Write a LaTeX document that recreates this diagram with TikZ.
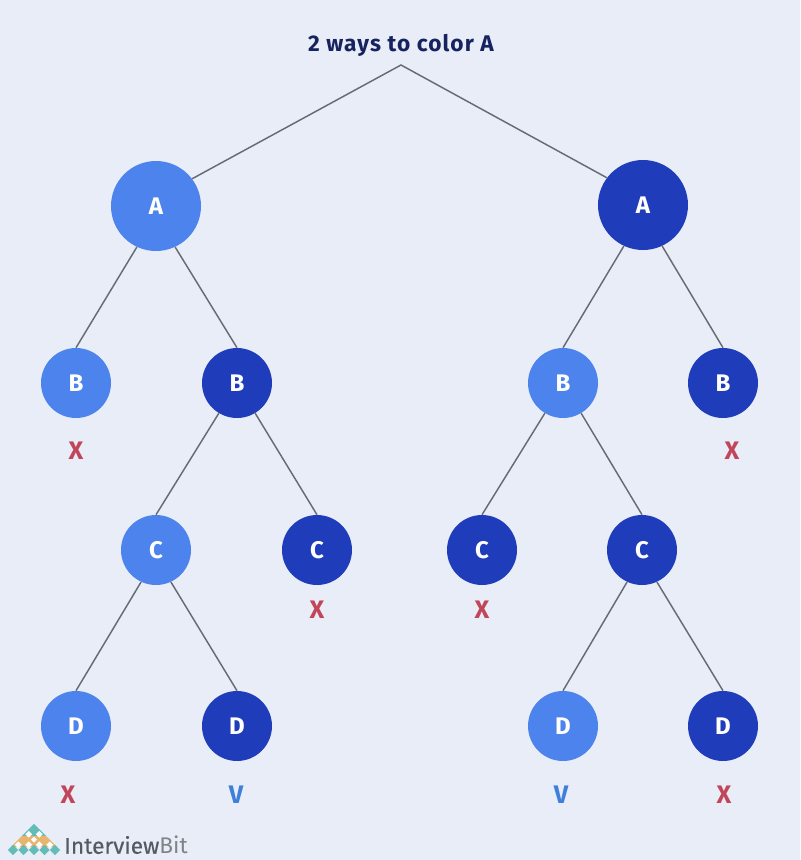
\documentclass[tikz,border=0pt]{standalone}
\usepackage{fontspec}
\setmainfont{Fira Sans}
\definecolor{bgc}{HTML}{E8EDF7}
\definecolor{lightb}{HTML}{4C83EC}
\definecolor{darkb}{HTML}{1F3DBB}
\definecolor{linec}{HTML}{666B76}
\definecolor{redx}{HTML}{C2455A}
\definecolor{bluev}{HTML}{3F7FDC}
\definecolor{titlec}{HTML}{16235F}
\definecolor{tealc}{HTML}{62BDB8}
\definecolor{orangec}{HTML}{E8B56E}
\definecolor{logot}{HTML}{555A62}
\tikzset{
  x=0.75pt,y=-0.75pt,
  bigc/.style={circle,minimum size=67.5pt,inner sep=0pt,text=white,font=\fontsize{18}{20}\selectfont\bfseries},
  smallc/.style={circle,minimum size=52.5pt,inner sep=0pt,text=white,font=\fontsize{18}{20}\selectfont\bfseries},
  lt/.style={fill=lightb},
  dk/.style={fill=darkb},
  link/.style={draw=linec,line width=1.1pt},
  markx/.style={text=redx,font=\fontsize{19}{20}\selectfont\bfseries},
  markv/.style={text=bluev,font=\fontsize{19}{20}\selectfont\bfseries}
}
\newcommand{\gemat}[4]{\fill[#4] (#1-#3,#2) -- (#1,#2-#3) -- (#1+#3,#2) -- (#1,#2+#3) -- cycle;}
\begin{document}
\begin{tikzpicture}
\useasboundingbox (0,0) rectangle (800,860);
\fill[bgc] (0,0) rectangle (800,860);
\coordinate (top) at (401,65);
\node[text=titlec,font=\fontsize{17}{18}\selectfont\bfseries] (title) at (401,45) {\addfontfeature{LetterSpace=5}2 ways to color A};
\node[bigc,lt] (A1) at (156,206) {A};
\node[bigc,dk] (A2) at (643,205) {A};
\node[smallc,lt] (B1) at (76,383) {B};
\node[smallc,dk] (B2) at (237,383) {B};
\node[smallc,lt] (B3) at (563,383) {B};
\node[smallc,dk] (B4) at (723,383) {B};
\node[smallc,lt] (C1) at (156,550) {C};
\node[smallc,dk] (C2) at (317,550) {C};
\node[smallc,dk] (C3) at (482,550) {C};
\node[smallc,dk] (C4) at (642,550) {C};
\node[smallc,lt] (D1) at (76,726) {D};
\node[smallc,dk] (D2) at (237,726) {D};
\node[smallc,lt] (D3) at (563,726) {D};
\node[smallc,dk] (D4) at (723,726) {D};
\draw[link] (A1.37) -- (top) -- (A2.143);
\draw[link] (A1.245) -- (B1.north);
\draw[link] (A1.295) -- (B2.north);
\draw[link] (A2.245) -- (B3.north);
\draw[link] (A2.295) -- (B4.north);
\draw[link] (B2.239) -- (C1.north);
\draw[link] (B2.301) -- (C2.north);
\draw[link] (B3.239) -- (C3.north);
\draw[link] (B3.301) -- (C4.north);
\draw[link] (C1.245) -- (D1.north);
\draw[link] (C1.295) -- (D2.north);
\draw[link] (C4.245) -- (D3.north);
\draw[link] (C4.295) -- (D4.north);
\node[markx] (x1) at (76,451) {X};
\node[markx] (x2) at (732,451) {X};
\node[markx] (x3) at (317,610) {X};
\node[markx] (x4) at (482,610) {X};
\node[markx] (x5) at (68,795) {X};
\node[markx] (x6) at (724,795) {X};
\node[markv] (v1) at (236,795) {V};
\node[markv] (v2) at (561,795) {V};
% logo
\fill[tealc] (34,823.8) -- (46.2,836) -- (21.8,836) -- cycle;
\fill[orangec] (21.8,836) -- (46.2,836) -- (57.2,847) -- (10.8,847) -- cycle;
\gemat{13}{850}{5.2}{tealc}\gemat{23.5}{850}{5.2}{tealc}\gemat{34}{850}{5.2}{tealc}\gemat{44.5}{850}{5.2}{tealc}\gemat{55}{850}{5.2}{tealc}
\gemat{28.75}{834.25}{3.4}{white}\gemat{39.25}{834.25}{3.4}{white}
\gemat{34}{839.5}{3}{white}
\gemat{18.25}{844.75}{3.4}{white}\gemat{28.75}{844.75}{3.4}{white}\gemat{39.25}{844.75}{3.4}{white}\gemat{49.75}{844.75}{3.4}{white}
\node[text=logot,anchor=west,inner sep=0pt,font=\fontsize{17}{20}\selectfont] (logo) at (64,845) {{\addfontfeature{FakeBold=0.4}Interview}\textcolor{logot!75}{Bit}};
\end{tikzpicture}
\end{document}
